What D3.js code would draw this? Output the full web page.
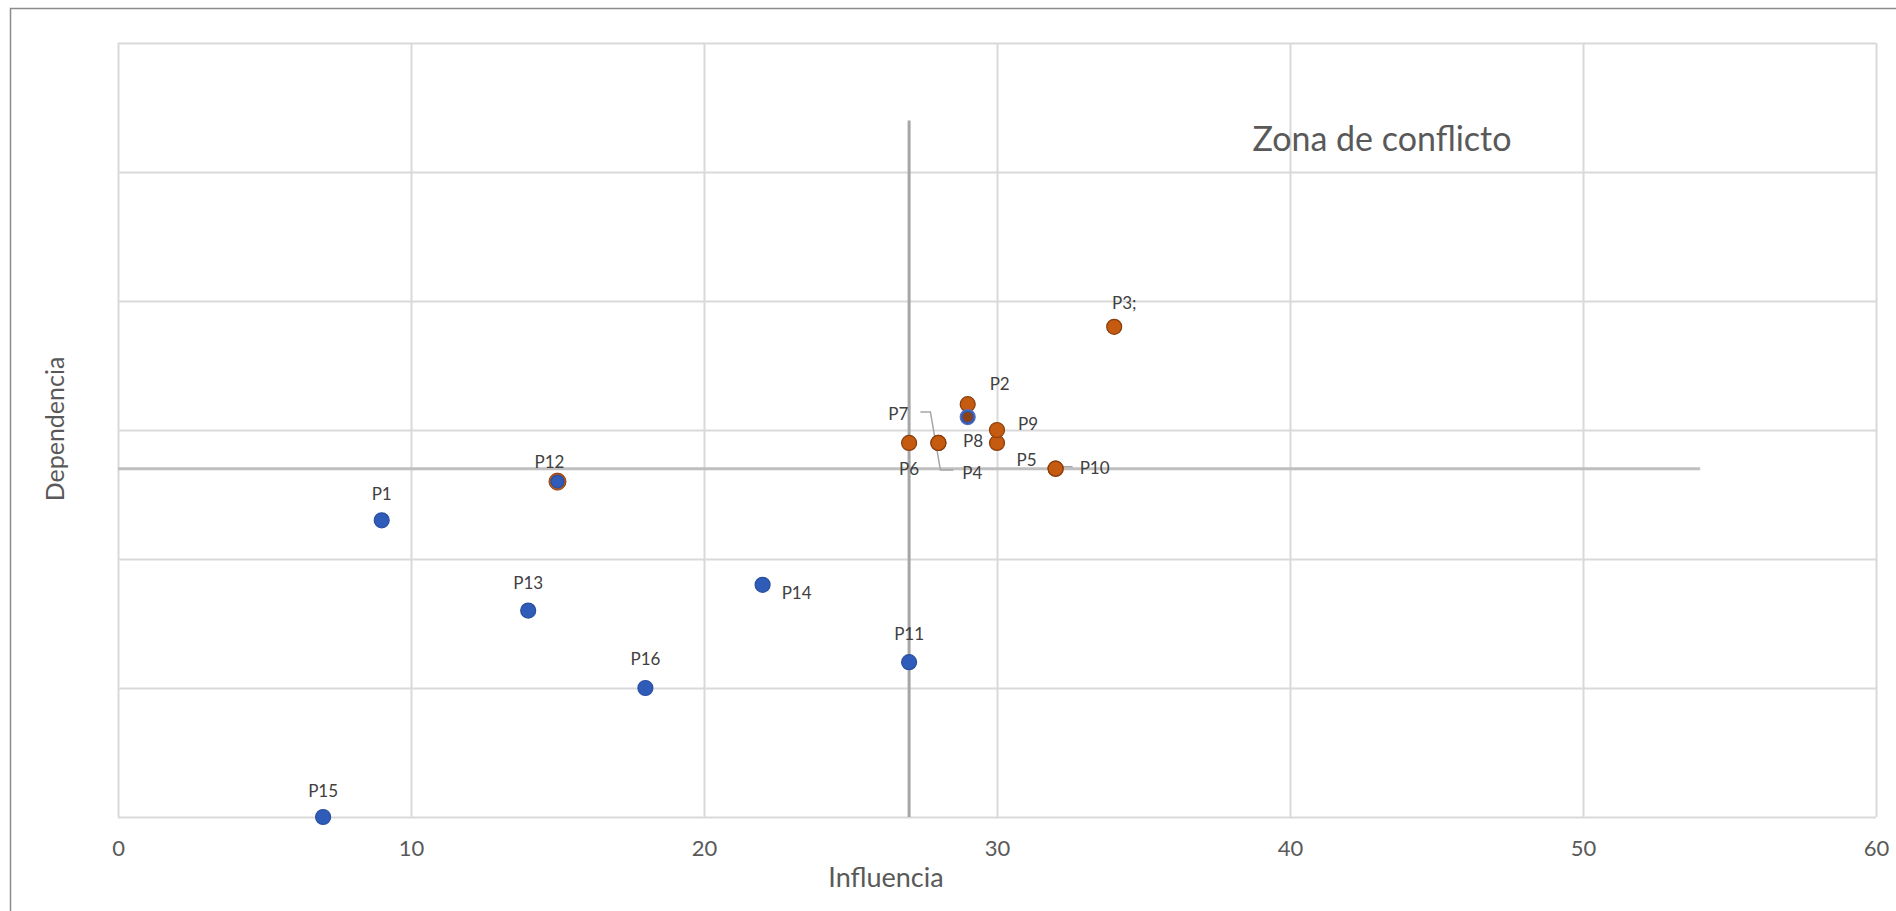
<!DOCTYPE html>
<html lang="es">
<head>
<meta charset="UTF-8">
<title>Influencia / Dependencia</title>
<script src="https://d3js.org/d3.v7.min.js"></script>
<style>
    body { margin: 0; background: #fff; }
    text { font-family: Lato, "Open Sans", sans-serif; }
    .grid line { stroke: #d9d9d9; stroke-width: 2; }
    .grid path { display: none; }
    .ticks text { fill: #595959; font-size: 22px; }
    .ticks path, .ticks line { display: none; }
    .lbl { fill: #404040; font-size: 17px; }
</style>
</head>
<body>
<svg></svg>
<script>
    // datos
    const labels      = ["P1","P2","P3;","P4","P5","P6","P7","P8","P9","P10","P11","P12","P13","P14","P15","P16"];
    const influencia  = [9, 29, 34, 28, 32, 27, 28, 30, 30, 32, 27, 15, 14, 22, 7, 18];
    const dependencia = [23, 32, 38, 29, 27, 29, 29, 29, 30, 27, 12, 26, 16, 18, 0, 10];
    const serie       = ["b","o","o","o","o","o","o","o","o","o","b","b","b","b","b","b"];

    // marcadores sin etiqueta que quedan superpuestos
    const extraX = [15, 29];
    const extraY = [26, 31];
    const extraSerie = ["o", "b"];

    // lineas de umbral
    const umbral = 27;
    const umbralFin = 54;

    const xTicks = [0, 10, 20, 30, 40, 50, 60];
    const yTicks = [0, 10, 20, 30, 40, 50, 60];

    // desplazamiento de cada etiqueta respecto a su punto (px)
    const labelOffsets = [
        [0,-27],[32,-21],[10,-24],[34,30],[-29,-9],[0,26],[-40,-29],[-24,-2],
        [31,-7],[39,-1],[0,-29],[-8,-20],[0,-28],[34,8],[0,-27],[0,-30]
    ];

    const width = 1896, height = 911;
    const margin = {top: 43, bottom: 94, left: 118, right: 20};

    const svg = d3.select('svg')
        .attr('width', width)
        .attr('height', height)
        .attr('viewBox', [0, 0, width, height]);

    svg.append('rect')
        .attr('x', 10.5).attr('y', 8.5)
        .attr('width', width).attr('height', height)
        .attr('fill', '#fff')
        .attr('stroke', '#8c8c8c')
        .attr('stroke-width', 1.5);

    const x = d3.scaleLinear().domain([0, 60]).range([margin.left, width - margin.right]);
    const y = d3.scaleLinear().domain([0, 60]).range([height - margin.bottom, margin.top]);

    // rejilla
    svg.append('g')
        .attr('class', 'grid')
        .attr('transform', `translate(0,${y(0)})`)
        .call(d3.axisBottom(x).tickValues(xTicks).tickSize(-(y(0) - y(60))).tickFormat(''));

    svg.append('g')
        .attr('class', 'grid')
        .attr('transform', `translate(${x(0)},0)`)
        .call(d3.axisLeft(y).tickValues(yTicks).tickSize(-(x(60) - x(0))).tickFormat(''));

    // eje inferior (solo etiquetas)
    svg.append('g')
        .attr('class', 'ticks')
        .attr('transform', `translate(0,${y(0)})`)
        .call(d3.axisBottom(x).tickValues(xTicks).tickSize(0).tickPadding(23));

    // lineas de umbral
    svg.append('line')
        .attr('x1', x(0)).attr('x2', x(umbralFin))
        .attr('y1', y(umbral)).attr('y2', y(umbral))
        .attr('stroke', '#bfbfbf').attr('stroke-width', 3);

    svg.append('line')
        .attr('x1', x(umbral)).attr('x2', x(umbral))
        .attr('y1', y(0)).attr('y2', y(umbralFin))
        .attr('stroke', '#a6a6a6').attr('stroke-width', 3);

    // lineas guia de etiquetas (P7 / P4 y P10)
    const guia = d3.line();
    svg.append('path')
        .attr('d', guia([[x(28) - 18, y(29) - 31], [x(28) - 8, y(29) - 31], [x(28) + 2, y(29) + 27], [x(28) + 15, y(29) + 27]]))
        .attr('fill', 'none').attr('stroke', '#a6a6a6').attr('stroke-width', 1.5);
    svg.append('path')
        .attr('d', guia([[x(32) + 5, y(27) - 2], [x(32) + 17, y(27) - 2]]))
        .attr('fill', 'none').attr('stroke', '#a6a6a6').attr('stroke-width', 1.5);

    const fillC = {b: '#2e5cb8', o: '#c55a11'};
    const strokeC = {b: '#2a4f9e', o: '#8a3d0c'};

    // anillo naranja detras de P12
    svg.append('circle')
        .attr('cx', x(extraX[0])).attr('cy', y(extraY[0])).attr('r', 8.5)
        .attr('fill', fillC[extraSerie[0]]).attr('stroke', strokeC[extraSerie[0]]).attr('stroke-width', 1);

    const idx = d3.range(labels.length);

    svg.append('g')
        .selectAll('circle')
        .data(idx)
        .join('circle')
        .attr('cx', i => x(influencia[i]))
        .attr('cy', i => y(dependencia[i]))
        .attr('r', i => labels[i] === 'P12' ? 6.5 : 7.5)
        .attr('fill', i => fillC[serie[i]])
        .attr('stroke', i => strokeC[serie[i]])
        .attr('stroke-width', 1.2);

    // punto azul con naranja encima
    svg.append('circle')
        .attr('cx', x(extraX[1])).attr('cy', y(extraY[1])).attr('r', 7.5)
        .attr('fill', fillC[extraSerie[1]]).attr('stroke', '#5a6fc0').attr('stroke-width', 1.2);
    svg.append('circle')
        .attr('cx', x(extraX[1])).attr('cy', y(extraY[1])).attr('r', 5)
        .attr('fill', '#8a4216');

    // etiquetas de datos
    svg.append('g')
        .selectAll('text')
        .data(idx)
        .join('text')
        .attr('class', 'lbl')
        .attr('x', i => x(influencia[i]) + labelOffsets[i][0])
        .attr('y', i => y(dependencia[i]) + labelOffsets[i][1])
        .attr('text-anchor', 'middle')
        .attr('dominant-baseline', 'central')
        .text(i => labels[i]);

    // titulos
    svg.append('text')
        .attr('x', 1382).attr('y', 137)
        .attr('text-anchor', 'middle')
        .attr('dominant-baseline', 'central')
        .attr('fill', '#595959')
        .style('font-size', '34px')
        .text('Zona de conflicto');

    svg.append('text')
        .attr('x', 886).attr('y', 876)
        .attr('text-anchor', 'middle')
        .attr('dominant-baseline', 'central')
        .attr('fill', '#595959')
        .style('font-size', '27px')
        .text('Influencia');

    svg.append('text')
        .attr('transform', 'translate(54,429) rotate(-90)')
        .attr('text-anchor', 'middle')
        .attr('dominant-baseline', 'central')
        .attr('fill', '#595959')
        .style('font-size', '25px')
        .text('Dependencia');
</script>
</body>
</html>
